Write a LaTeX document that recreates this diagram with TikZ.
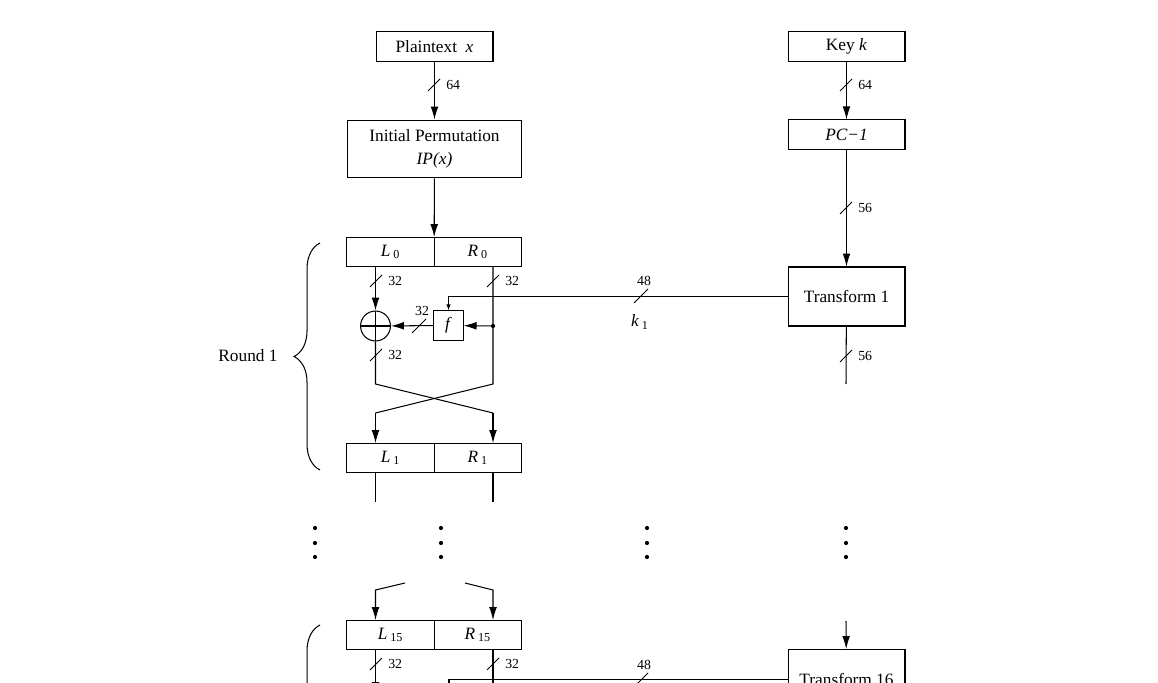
\documentclass[tikz,border=0pt]{standalone}
\usepackage{fontspec}
\setmainfont{Liberation Serif}
\usetikzlibrary{positioning,arrows.meta,decorations.pathreplacing}

\tikzset{
  blk/.style={draw,inner sep=0pt,minimum width=67.6pt,minimum height=16.8pt},
  half/.style={draw,inner sep=0pt,outer sep=0pt,minimum width=50.5pt,minimum height=17.3pt},
  bus/.style={font=\footnotesize,inner sep=1pt},
  keyin/.style={-{Latex[length=3.5pt,width=2.5pt]}},
}

\begin{document}
\begin{tikzpicture}[x=0.578pt,y=-0.578pt,line width=0.6pt,>={Latex[length=7.5pt,width=4.5pt]}]
  \path[use as bounding box,clip] (0,0) rectangle (1158,683);
  % left column
  \node[blk] (pt) at (434.5,46.5) {Plaintext \ \textit{x}};
  \node[blk,minimum width=101pt,minimum height=33.5pt,align=center] (ip) at (434.5,149)
    {Initial Permutation\\[1.5pt]\textit{IP(x)}};
  \node[half] (l0) at (390.5,252) {\textit{L}\,\textsubscript{0}};
  \node[half,right=0pt of l0] (r0) {\textit{R}\,\textsubscript{0}};
  \node[circle,draw,minimum size=17.3pt,inner sep=0pt] (xor1) at (375.5,326) {};
  \draw (xor1.north) -- (xor1.south) (xor1.west) -- (xor1.east);
  \node[draw,minimum size=16.8pt,inner sep=0pt] (f1) at (448.5,325.5) {\textit{f}};
  \coordinate (d1) at (493,326);
  \fill (d1) circle (1.2pt);
  \node[half] (l1) at (390.5,458) {\textit{L}\,\textsubscript{1}};
  \node[half,right=0pt of l1] (r1) {\textit{R}\,\textsubscript{1}};
  \node[half] (l15) at (390.5,635) {\textit{L}\,\textsubscript{15}};
  \node[half,right=0pt of l15] (r15) {\textit{R}\,\textsubscript{15}};
  % right column
  \node[blk] (key) at (846.5,46.5) {Key \textit{k}};
  \node[blk] (pc1) at (846.5,134.5) {\textit{PC−1}};
  \node[blk,minimum height=34.1pt] (t1) at (846.5,296.5) {Transform 1};
  \node[blk,minimum height=34.1pt,anchor=north] (t16) at (846.5,649) {Transform 16};
  % free ends
  \coordinate (la) at (375.5,384);  \coordinate (ra) at (493,384);
  \coordinate (lb) at (375.5,413);  \coordinate (rb) at (493,413);
  \coordinate (lc) at (375.5,502);  \coordinate (rc) at (493,502);
  \coordinate (ld) at (405,583);  \coordinate (rd) at (465,583);
  \coordinate (le) at (375.5,590);  \coordinate (re) at (493,590);
  \coordinate (kc) at (846,384);  \coordinate (kd) at (846,621);
  \coordinate (xor16) at (375.5,695); \coordinate (f16) at (449,695);
  \coordinate (rf) at (493,700);
  % connectors
  \draw[->] (pt) -- (ip);
  \draw[->] (ip) -- (l0.north east);
  \draw[->] (key) -- (pc1);
  \draw[->] (pc1) -- (t1);
  \draw[->] (xor1|-l0.south) -- (xor1);
  \draw (ra|-r0.south) -- (ra) -- (lb);
  \draw (xor1) -- (la) -- (rb);
  \draw[->] (lb) -- (lb|-l1.north);
  \draw[->] (rb) -- (rb|-r1.north);
  \draw[->] (d1) -- (f1);
  \draw[->] (f1) -- (xor1);
  \draw[keyin] (t1) -- (t1.west-|f1) -- (f1);
  \draw (t1) -- (kc);
  \draw (lc|-l1.south) -- (lc) (rc|-r1.south) -- (rc);
  \draw[->] (ld) -- (le) -- (le|-l15.north);
  \draw[->] (rd) -- (re) -- (re|-r15.north);
  \draw[->] (kd) -- (t16);
  \draw[->] (xor16|-l15.south) -- (xor16);
  \draw (rf|-r15.south) -- (rf);
  \draw[keyin] (t16.west) -- (t16.west-|f16) -- (f16);
  % bus widths
  \foreach \X/\Y/\W in {434/85/64,846/85/64,846/208/56,376/281/32,493/281/32,
                        376/355/32,846/356/56,376/664/32,493/664/32}
    {\draw (\X-6,\Y+6) -- (\X+6,\Y-6);
     \node[bus,anchor=west] (w-\X-\Y) at (\X+10,\Y) {\W};}
  \foreach \X/\Y/\W in {419/326/32,641/296/48,641/680/48}
    {\draw (\X-7,\Y+7) -- (\X+7,\Y-7);
     \node[bus] (h-\X-\Y) at (\X+3,\Y-15) {\W};}
  \node (k1) at (640,322) {\textit{k}\,\textsubscript{1}};
  % continuation dots
  \foreach \X in {315,441,647,846}
    \foreach \Y in {528,543,557}
      \fill (\X,\Y) circle (1.2pt);
  % rounds
  \draw[decorate,decoration={brace,amplitude=15pt,aspect=0.5}] (320,470) -- (320,243);
  \node (rnd1) at (248,356) {Round 1};
  \draw[decorate,decoration={brace,amplitude=15pt,aspect=0.5}] (320,852) -- (320,625);
\end{tikzpicture}
\end{document}
